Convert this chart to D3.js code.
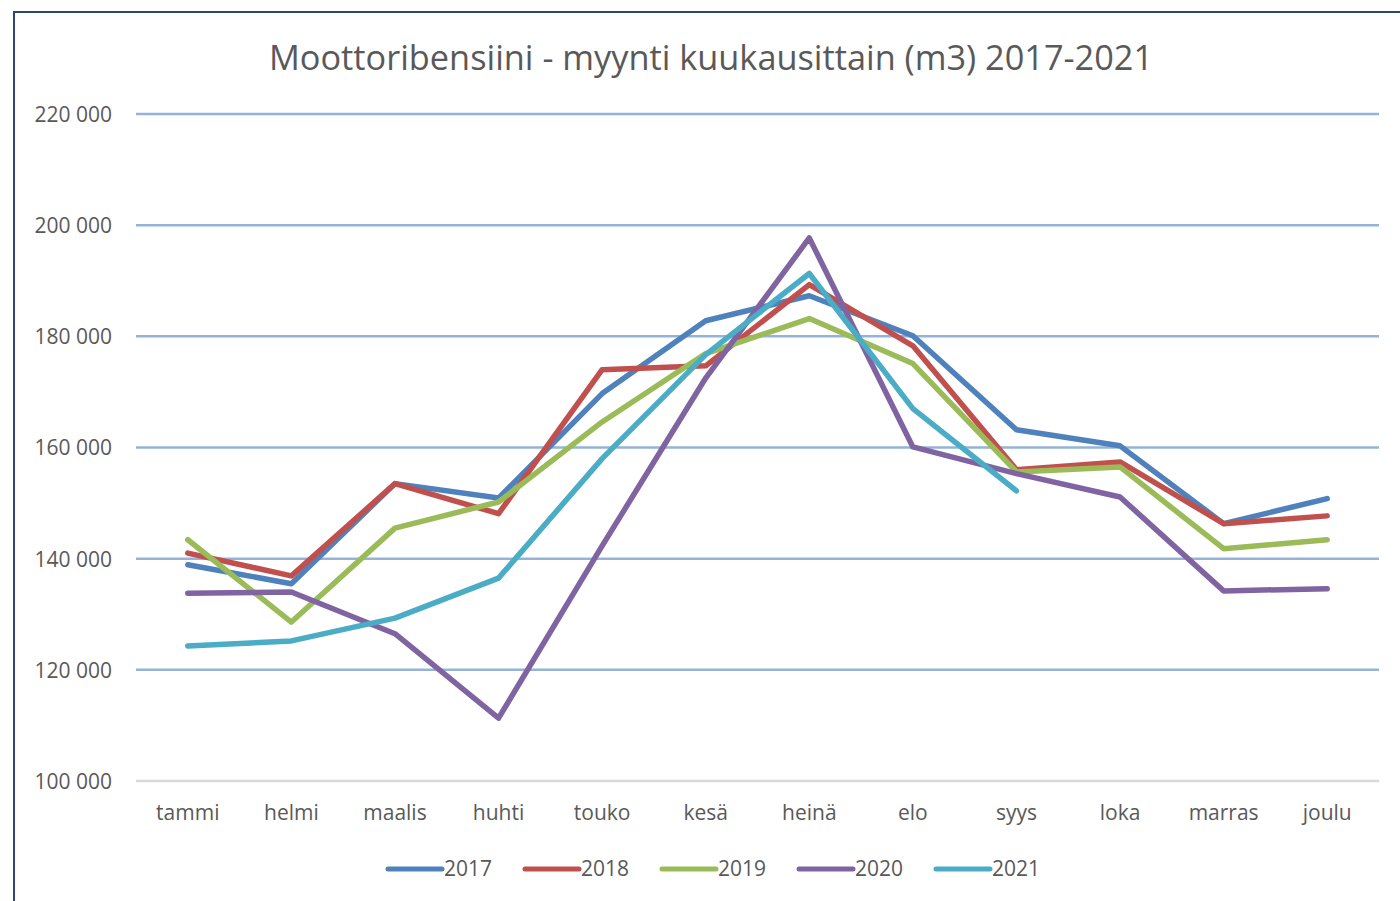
<!DOCTYPE html>
<html>
<head>
<meta charset="utf-8">
<script src="https://cdn.jsdelivr.net/npm/d3@7"></script>
<style>
  body { margin: 0; background: #fff; }
  text { font-family: "Open Sans", "Noto Sans", sans-serif; fill: #595959; }
</style>
</head>
<body>
<div id="chart"></div>
<script>
// data (m3)
var kuukaudet = ["tammi", "helmi", "maalis", "huhti", "touko", "kesä", "heinä", "elo", "syys", "loka", "marras", "joulu"];
var vuodet = ["2017", "2018", "2019", "2020", "2021"];
var v2017 = [138900, 135500, 153500, 150900, 169700, 182800, 187300, 180100, 163200, 160300, 146300, 150800];
var v2018 = [141000, 136900, 153500, 148100, 174000, 174700, 189300, 178300, 156000, 157400, 146300, 147700];
var v2019 = [143400, 128600, 145500, 150200, 164600, 176900, 183200, 175100, 155600, 156500, 141800, 143400];
var v2020 = [133800, 134000, 126500, 111300, 142300, 172500, 197700, 160100, 155300, 151100, 134200, 134600];
var v2021 = [124300, 125200, 129300, 136500, 158000, 176700, 191300, 167000, 152200, null, null, null];
var yTicks = [100000, 120000, 140000, 160000, 180000, 200000, 220000];
var varit = ["#4F81BD", "#C0504D", "#9BBB59", "#8064A2", "#4BACC6"];

var sarjat = [v2017, v2018, v2019, v2020, v2021];

var width = 1400, height = 901;
var margin = { top: 114, left: 136, right: 21, bottom: 120 };

var svg = d3.select("#chart").append("svg")
    .attr("width", width)
    .attr("height", height);

// kehys
svg.append("rect")
    .attr("x", 14).attr("y", 12)
    .attr("width", width + 20).attr("height", height + 20)
    .attr("fill", "white")
    .attr("stroke", "#2c4770")
    .attr("stroke-width", 2);

// otsikko
svg.append("text")
    .attr("x", 711).attr("y", 70)
    .attr("text-anchor", "middle")
    .style("font-size", "34.3px")
    .text("Moottoribensiini - myynti kuukausittain (m3) 2017-2021");

var x = d3.scaleBand()
    .domain(kuukaudet)
    .range([margin.left, width - margin.right]);

var y = d3.scaleLinear()
    .domain([100000, 220000])
    .range([781, 114]);

// ruudukko
svg.append("g")
    .selectAll("line")
    .data(yTicks)
    .join("line")
    .attr("x1", margin.left).attr("x2", width - margin.right)
    .attr("y1", d => y(d)).attr("y2", d => y(d))
    .attr("stroke", d => d === 100000 ? "#d9d9d9" : "#95B3D7")
    .attr("stroke-width", 2.5);

// y-akseli
var fmt = d => d3.format(",")(d).replace(/,/g, " ");
var yAxis = svg.append("g")
    .attr("transform", "translate(" + (margin.left - 24) + ",0)")
    .call(d3.axisLeft(y).tickValues(yTicks).tickFormat(fmt).tickSize(0).tickPadding(0));
yAxis.select(".domain").remove();
yAxis.selectAll("text")
    .style("font-size", "21px")
    .attr("fill", "#595959")
    .attr("dy", "0.35em");

// x-akseli
var xAxis = svg.append("g")
    .attr("transform", "translate(0,781)")
    .call(d3.axisBottom(x).tickSize(0).tickPadding(24));
xAxis.select(".domain").remove();
xAxis.selectAll("text")
    .style("font-size", "21px")
    .attr("fill", "#595959");

// viivat
var line = d3.line()
    .defined(d => d != null)
    .x((d, i) => x(kuukaudet[i]) + x.bandwidth() / 2)
    .y(d => y(d));

svg.append("g")
    .selectAll("path")
    .data(sarjat)
    .join("path")
    .attr("fill", "none")
    .attr("stroke", (d, i) => varit[i])
    .attr("stroke-width", 5.5)
    .attr("stroke-linecap", "round")
    .attr("stroke-linejoin", "round")
    .attr("d", line);

// selite
var legendX = [388, 525, 662, 799, 936];
var legend = svg.append("g")
    .selectAll("g")
    .data(vuodet)
    .join("g")
    .attr("transform", (d, i) => "translate(" + legendX[i] + ",869)");

legend.append("line")
    .attr("x1", 0).attr("x2", 54)
    .attr("stroke", (d, i) => varit[i])
    .attr("stroke-width", 5)
    .attr("stroke-linecap", "round");

legend.append("text")
    .attr("x", 56)
    .attr("dy", "0.35em")
    .style("font-size", "21px")
    .text(d => d);
</script>
</body>
</html>
